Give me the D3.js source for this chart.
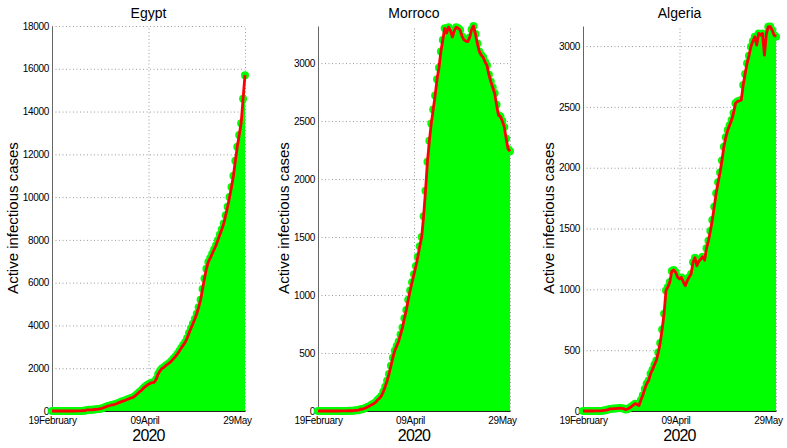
<!DOCTYPE html>
<html>
<head>
<meta charset="utf-8">
<style>
  body { margin: 0; background: #fff; }
  svg { display: block; font-family: "Liberation Sans", Arial, Helvetica, sans-serif; }
  .tick text { font-size: 10px; letter-spacing: -0.3px; fill: #000; }
  .grid line { stroke: #9a9a9a; stroke-dasharray: 1,2.5; }
  .grid path { display: none; }
  .title { font-size: 14px; text-anchor: middle; }
  .ylabel { font-size: 15px; text-anchor: middle; }
  .xlabel { font-size: 16px; text-anchor: middle; letter-spacing: -0.8px; }
</style>
</head>
<body>
<svg width="787" height="448"></svg>
<script src="https://cdnjs.cloudflare.com/ajax/libs/d3/7.8.5/d3.min.js"></script>
<script>
// daily active infectious cases, 19 Feb 2020 .. 29 May 2020 (101 days)
var egyptActive = [
  0,0,0,0,0,0,0,0,0,1,1,1,1,2,2,2,
  15,15,48,55,55,57,70,
  80,93,110,126,166,196,235,
  256,285,300,327,366,402,440,470,
  500,540,576,609,640,700,780,870,
  940,1030,1120,1190,1250,1300,1330,
  1340,1480,1730,1880,1990,2040,2130,2190,
  2260,2350,2450,2550,2670,2800,2950,3080,
  3210,3400,3650,3870,4080,4300,4550,
  4850,5200,5700,6200,6650,6970,7150,
  7350,7550,7750,8000,8250,8500,8770,
  9150,9550,10000,10470,11000,11700,
  12350,12900,13450,14600,15700
];
var moroccoActive = [
  0,0,0,0,0,0,0,0,0,0,0,0,
  1,1,1,1,2,2,2,5,6,7,16,
  15,22,28,37,44,55,63,75,95,110,130,165,210,260,320,390,460,520,560,600,660,720,
  800,870,960,1040,1110,1180,1250,1330,1420,1500,1680,1900,2150,2330,2480,2600,
  2720,2860,2960,3100,3200,3300,3260,3310,3280,3225,3280,3310,3300,3285,3230,
  3200,3190,3185,3220,3290,3320,3250,3170,3100,3070,3050,3010,2980,2900,2840,
  2790,2740,2640,2550,2540,2500,2450,2350,2260,2240
];
var algeriaActive = [
  0,0,0,0,0,0,1,1,1,1,3,5,8,12,17,18,20,20,22,24,22,20,12,15,25,35,48,60,55,45,
  90,130,180,224,250,306,340,380,415,480,560,670,800,990,1020,1060,1150,1160,1140,1100,
  1085,1098,1060,1030,1071,1100,1126,1222,1260,1194,1230,1249,1268,1240,1337,1400,1480,1570,1680,1790,
  1880,1960,2060,2173,2250,2310,2350,2392,2450,2529,2545,2550,2556,2680,2770,2858,2920,2995,3040,3077,
  3008,3104,3090,3104,2926,3100,3159,3160,3130,3090,3077
];

var countries = ["Egypt", "Morroco", "Algeria"];
var yMaxes = [18000, 3320, 3165];
var yTicksEgypt = [0, 2000, 4000, 6000, 8000, 10000, 12000, 14000, 16000, 18000];
var yTicksSmall = [0, 500, 1000, 1500, 2000, 2500, 3000];
var xTickDates = [new Date(2020, 1, 19), new Date(2020, 3, 9), new Date(2020, 4, 29)];
var xTickLabels = ["19February", "09April", "29May"];
var yearLabel = "2020";
var yLabelText = "Active infectious cases";

var dates = d3.timeDay.range(new Date(2020, 1, 19), new Date(2020, 4, 30));

var series = [egyptActive, moroccoActive, algeriaActive];
var yTicksList = [yTicksEgypt, yTicksSmall, yTicksSmall];

// panel frames in pixels
var frames = [
  {left: 52, right: 245, ylab: 18},
  {left: 318, right: 510, ylab: 289},
  {left: 583, right: 776, ylab: 554}
];
var plotTop = 26, plotBottom = 411;
var labelShift = [0, -4, -8];

var svg = d3.select("svg");

frames.forEach(function(f, i) {
  var values = series[i];
  var x = d3.scaleTime().domain([dates[0], dates[dates.length - 1]]).range([f.left, f.right]);
  var y = d3.scaleLinear().domain([0, yMaxes[i]]).range([plotBottom, plotTop]);
  var w = f.right - f.left, h = plotBottom - plotTop;
  var g = svg.append("g");

  // grid
  g.append("g").attr("class", "grid")
    .attr("transform", "translate(" + f.left + ",0)")
    .call(d3.axisLeft(y).tickValues(yTicksList[i].filter(function(v) { return v > 0; }))
      .tickSize(-w).tickFormat(""));
  g.append("g").attr("class", "grid")
    .attr("transform", "translate(0," + plotBottom + ")")
    .call(d3.axisBottom(x).tickValues(xTickDates.slice(1)).tickSize(h).tickFormat(""))
    .selectAll("line").attr("y2", -h);

  // axes
  var ya = g.append("g")
    .attr("transform", "translate(" + f.left + ",0)")
    .call(d3.axisLeft(y).tickValues(yTicksList[i]).tickSize(0).tickPadding(3)
      .tickFormat(d3.format("d")));
  ya.select(".domain").attr("stroke", "#666");
  var xa = g.append("g")
    .attr("transform", "translate(0," + plotBottom + ")")
    .call(d3.axisBottom(x).tickValues(xTickDates).tickSize(0).tickPadding(6)
      .tickFormat(function(d, k) { return xTickLabels[k]; }));
  xa.select(".domain").attr("stroke", "#222");
  xa.selectAll(".tick text").attr("dx", function(d, k) { return labelShift[k]; });

  // data
  var area = d3.area()
    .x(function(d, k) { return x(dates[k]); })
    .y0(plotBottom)
    .y1(function(d) { return y(d); });
  g.append("path").datum(values)
    .attr("fill", "#00ff00")
    .attr("d", area);
  g.selectAll("circle").data(values).enter().append("circle")
    .attr("cx", function(d, k) { return x(dates[k]); })
    .attr("cy", function(d) { return y(d); })
    .attr("r", 4)
    .attr("fill", "#00ff00");
  var line = d3.line()
    .x(function(d, k) { return x(dates[k]); })
    .y(function(d) { return y(d); });
  g.append("path").datum(values)
    .attr("fill", "none")
    .attr("stroke", "#ff0000")
    .attr("stroke-width", 2.8)
    .attr("stroke-linejoin", "round")
    .attr("d", line);

  // labels
  var cx = (f.left + f.right) / 2;
  g.append("text").attr("class", "title")
    .attr("x", cx).attr("y", 18)
    .text(countries[i]);
  g.append("text").attr("class", "ylabel")
    .attr("transform", "translate(" + f.ylab + "," + 218 + ") rotate(-90)")
    .text(yLabelText);
  g.append("text").attr("class", "xlabel")
    .attr("x", cx).attr("y", 441)
    .text(yearLabel);
});
</script>
</body>
</html>
